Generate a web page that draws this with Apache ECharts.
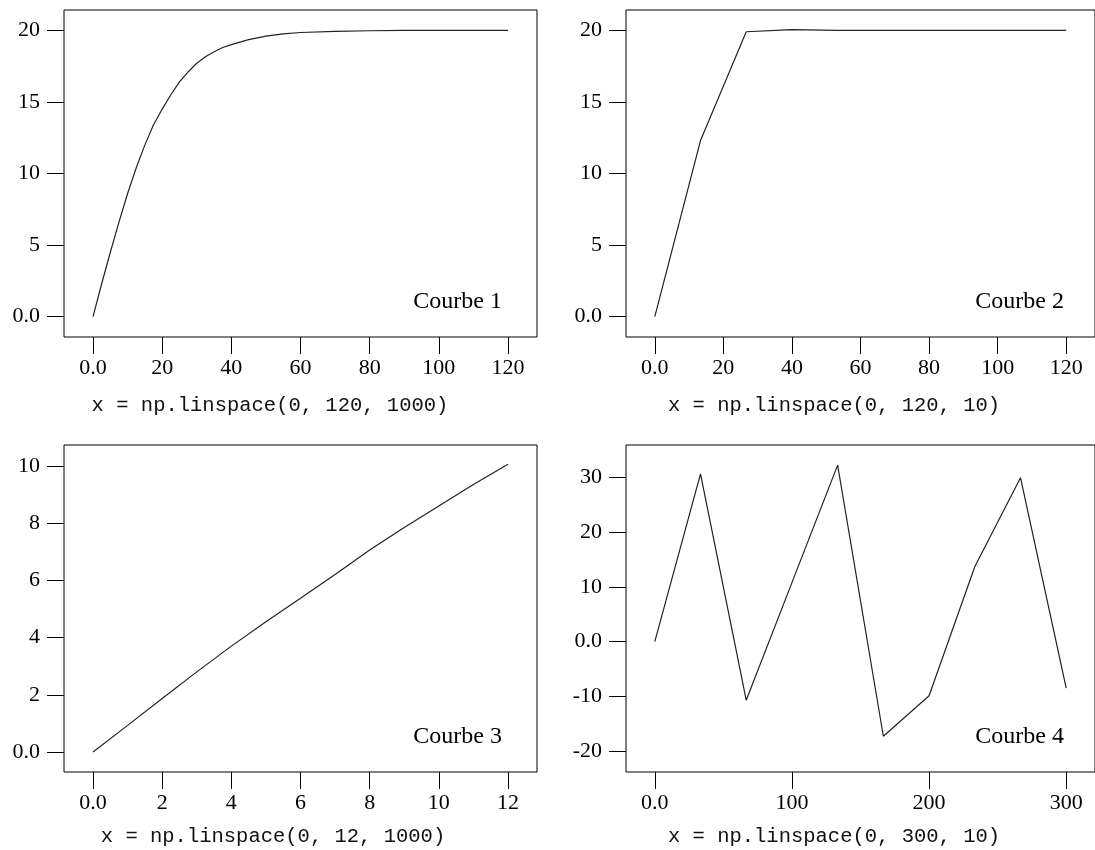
<!DOCTYPE html>
<html>
<head>
<meta charset="utf-8">
<script src="https://cdn.jsdelivr.net/npm/echarts@6/dist/echarts.min.js"></script>
<style>
  html, body { margin: 0; padding: 0; background: #fff; }
  #main { width: 1095px; height: 850px; }
</style>
</head>
<body>
<div id="main"></div>
<script>
// Courbe 1 : x = np.linspace(0, 120, 1000)
const x1 = [0, 2.5, 5, 7.5, 10, 12.5, 15, 17.5, 20, 22.5, 25, 27.5, 30, 32.5, 35, 37.5, 40, 45, 50, 55, 60, 70, 80, 90, 100, 110, 120];
const y1 = [0, 2.3, 4.5, 6.6, 8.6, 10.4, 12.0, 13.4, 14.5, 15.5, 16.4, 17.1, 17.7, 18.15, 18.5, 18.8, 19.0, 19.35, 19.6, 19.75, 19.85, 19.93, 19.97, 19.99, 20.0, 20.0, 20.0];

// Courbe 2 : x = np.linspace(0, 120, 10)
const x2 = [0, 13.33, 26.67, 40, 53.33, 66.67, 80, 93.33, 106.67, 120];
const y2 = [0, 12.3, 19.9, 20.05, 20.0, 20.0, 20.0, 20.0, 20.0, 20.0];

// Courbe 3 : x = np.linspace(0, 12, 1000)
const x3 = [0, 1, 2, 3, 4, 5, 6, 7, 8, 9, 10, 11, 12];
const y3 = [0, 0.93, 1.87, 2.8, 3.7, 4.55, 5.37, 6.2, 7.06, 7.85, 8.6, 9.35, 10.06];

// Courbe 4 : x = np.linspace(0, 300, 10)
const x4 = [0, 33.33, 66.67, 100, 133.33, 166.67, 200, 233.33, 266.67, 300];
const y4 = [0, 30.7, -10.7, 10.8, 32.3, -17.3, -9.9, 13.7, 30.0, -8.5];

// tick positions
const xTicks12 = [0, 20, 40, 60, 80, 100, 120];
const xTicks3 = [0, 2, 4, 6, 8, 10, 12];
const xTicks4 = [0, 100, 200, 300];
const yTicks12 = [0, 5, 10, 15, 20];
const yTicks3 = [0, 2, 4, 6, 8, 10];
const yTicks4 = [-20, -10, 0, 10, 20, 30];

const labels = ["Courbe 1", "Courbe 2", "Courbe 3", "Courbe 4"];
const captions = [
  "x = np.linspace(0, 120, 1000)",
  "x = np.linspace(0, 120, 10)",
  "x = np.linspace(0, 12, 1000)",
  "x = np.linspace(0, 300, 10)"
];

function pairs(xs, ys) {
  return xs.map((v, i) => [v, ys[i]]);
}

function fmt(v) {
  return v === 0 ? "0.0" : String(v);
}

const serif = "'Liberation Serif', 'DejaVu Serif', serif";
const mono = "'Liberation Mono', 'DejaVu Sans Mono', monospace";

// axis with ticks only at the given values, drawn outside the box
function ax(idx, min, max, ticks, margin) {
  return {
    type: "value", gridIndex: idx, min: min, max: max,
    splitLine: { show: false },
    axisLine: { show: false, onZero: false },
    axisTick: { show: true, customValues: ticks, length: 17, inside: false,
      lineStyle: { color: "#000", width: 1 } },
    axisLabel: { show: true, customValues: ticks, margin: margin, formatter: fmt,
      fontFamily: serif, fontSize: 22, color: "#000" }
  };
}

const boxStyle = { show: true, borderColor: "#000", borderWidth: 1, backgroundColor: "transparent" };

const option = {
  animation: false,
  backgroundColor: "#fff",
  grid: [
    Object.assign({ left: 64, top: 10, width: 473, height: 327 }, boxStyle),
    Object.assign({ left: 626, top: 10, width: 472, height: 327 }, boxStyle),
    Object.assign({ left: 64, top: 445, width: 473, height: 327 }, boxStyle),
    Object.assign({ left: 626, top: 445, width: 472, height: 327 }, boxStyle)
  ],
  xAxis: [
    ax(0, -8.4, 128.4, xTicks12, 20),
    ax(1, -8.4, 128.4, xTicks12, 20),
    ax(2, -0.84, 12.84, xTicks3, 20),
    ax(3, -21, 321, xTicks4, 20)
  ],
  yAxis: [
    ax(0, -1.42, 21.42, yTicks12, 24),
    ax(1, -1.42, 21.42, yTicks12, 24),
    ax(2, -0.7, 10.73, yTicks3, 24),
    ax(3, -23.84, 35.98, yTicks4, 24)
  ],
  series: [
    { data: pairs(x1, y1) },
    { data: pairs(x2, y2) },
    { data: pairs(x3, y3) },
    { data: pairs(x4, y4) }
  ].map((s, i) => Object.assign({
    type: "line", xAxisIndex: i, yAxisIndex: i,
    showSymbol: false, silent: true,
    lineStyle: { color: "#222", width: 1.2 }
  }, s)),
  graphic: [
    // curve names, bottom right inside each box
    { type: "text", right: 1095 - 502, top: 290, style: { text: labels[0], font: "24px " + serif, fill: "#000" } },
    { type: "text", right: 1095 - 1064, top: 290, style: { text: labels[1], font: "24px " + serif, fill: "#000" } },
    { type: "text", right: 1095 - 502, top: 725, style: { text: labels[2], font: "24px " + serif, fill: "#000" } },
    { type: "text", right: 1095 - 1064, top: 725, style: { text: labels[3], font: "24px " + serif, fill: "#000" } },
    // code captions under each panel
    { type: "text", x: 270, y: 406, style: { text: captions[0], font: "20.5px " + mono, fill: "#111", align: "center", verticalAlign: "middle" } },
    { type: "text", x: 834, y: 406, style: { text: captions[1], font: "20.5px " + mono, fill: "#111", align: "center", verticalAlign: "middle" } },
    { type: "text", x: 273, y: 837, style: { text: captions[2], font: "20.5px " + mono, fill: "#111", align: "center", verticalAlign: "middle" } },
    { type: "text", x: 834, y: 837, style: { text: captions[3], font: "20.5px " + mono, fill: "#111", align: "center", verticalAlign: "middle" } }
  ]
};

const chart = echarts.init(document.getElementById("main"), null, { renderer: "canvas" });
chart.setOption(option);
</script>
</body>
</html>
